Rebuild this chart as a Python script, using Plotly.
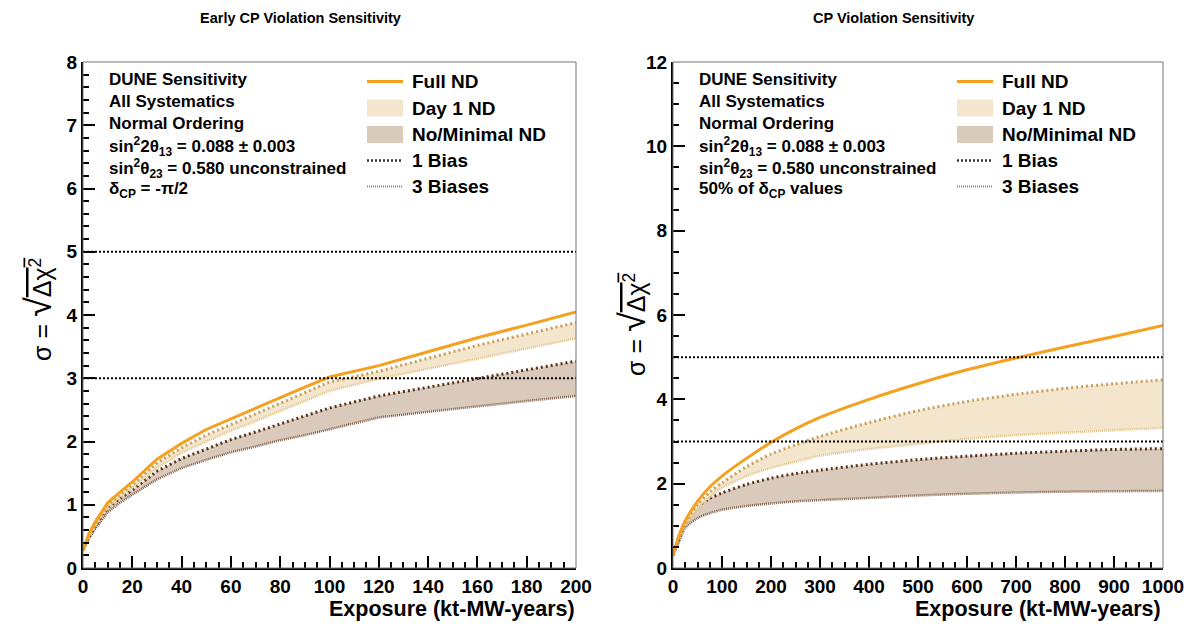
import plotly.graph_objects as go
from plotly.subplots import make_subplots

# ---------------- data ----------------
early_x = [0, 2.5, 5, 10, 15, 20, 30, 40, 50, 60, 70, 80, 90, 100, 120, 140, 160, 180, 200]
early_full = [0.28, 0.55, 0.73, 1.03, 1.20, 1.36, 1.72, 1.97, 2.19, 2.36, 2.53, 2.70, 2.86, 3.02, 3.20, 3.42, 3.64, 3.84, 4.05]
early_day1_1bias = [0.28, 0.53, 0.70, 0.99, 1.16, 1.31, 1.66, 1.90, 2.10, 2.27, 2.44, 2.61, 2.77, 2.94, 3.11, 3.32, 3.52, 3.70, 3.88]
early_day1_3bias = [0.28, 0.50, 0.67, 0.95, 1.12, 1.26, 1.58, 1.82, 2.00, 2.17, 2.32, 2.48, 2.64, 2.80, 2.99, 3.15, 3.32, 3.48, 3.63]
early_nond_1bias = [0.28, 0.50, 0.66, 0.95, 1.10, 1.23, 1.53, 1.73, 1.88, 2.03, 2.15, 2.28, 2.40, 2.53, 2.72, 2.86, 3.00, 3.14, 3.27]
early_nond_3bias = [0.28, 0.47, 0.62, 0.88, 1.03, 1.16, 1.40, 1.58, 1.71, 1.83, 1.92, 2.02, 2.10, 2.19, 2.38, 2.47, 2.56, 2.64, 2.72]

cpv_x = [0, 12.5, 25, 50, 75, 100, 150, 200, 250, 300, 400, 500, 600, 700, 800, 900, 1000]
cpv_full = [0.30, 0.78, 1.12, 1.58, 1.92, 2.18, 2.60, 2.98, 3.30, 3.57, 4.00, 4.37, 4.70, 4.98, 5.24, 5.49, 5.75]
cpv_day1_1bias = [0.30, 0.76, 1.08, 1.50, 1.80, 2.02, 2.40, 2.70, 2.92, 3.12, 3.45, 3.73, 3.95, 4.12, 4.26, 4.37, 4.46]
cpv_day1_3bias = [0.30, 0.72, 1.00, 1.40, 1.68, 1.90, 2.18, 2.37, 2.52, 2.66, 2.82, 2.94, 3.06, 3.15, 3.21, 3.27, 3.32]
cpv_nond_1bias = [0.30, 0.70, 1.05, 1.45, 1.65, 1.78, 1.98, 2.13, 2.24, 2.32, 2.46, 2.57, 2.65, 2.72, 2.77, 2.81, 2.83]
cpv_nond_3bias = [0.30, 0.63, 0.95, 1.18, 1.30, 1.38, 1.47, 1.53, 1.58, 1.61, 1.66, 1.72, 1.76, 1.79, 1.81, 1.82, 1.83]

sigma_levels = [3, 5]

panel_titles = ["Early CP Violation Sensitivity", "CP Violation Sensitivity"]
legend_labels = ["Full ND", "Day 1 ND", "No/Minimal ND", "1 Bias", "3 Biases"]
info_common = ["DUNE Sensitivity", "All Systematics", "Normal Ordering",
               "sin<sup>2</sup>2θ<sub>13</sub> = 0.088 ± 0.003",
               "sin<sup>2</sup>θ<sub>23</sub> = 0.580 unconstrained"]
info_last = ["δ<sub>CP</sub> = -π/2", "50% of δ<sub>CP</sub> values"]

# ---------------- styles ----------------
PAGE_W, PAGE_H = 1193, 624
OFF = 8  # default page body margin
W, H = PAGE_W - OFF, PAGE_H - OFF
FONT = "Liberation Sans, Arial, Helvetica, sans-serif"
ORANGE = "#f5a11f"
DAY1_FILL = "#f3e6cd"
NOND_FILL = "#d9cabb"
DAY1_L1 = "#c9a05a"
DAY1_L3 = "#e2c48c"
NOND_L1 = "#5a3218"
NOND_L3 = "#7d5d48"


def px(x):
    return (x - OFF) / W


def py(y):
    return 1 - (y - OFF) / H


fig = make_subplots(rows=1, cols=2)


def add_panel(col, x, full, d1a, d1b, n1a, n1b, shape):
    ln = dict(shape=shape, smoothing=0.8) if shape == "spline" else dict(shape=shape)
    fig.add_trace(go.Scatter(x=x, y=n1b, mode="lines", showlegend=False,
                             line=dict(color=NOND_L3, width=2.5, dash="1px,1px", **ln)), row=1, col=col)
    fig.add_trace(go.Scatter(x=x, y=n1a, mode="lines", showlegend=False, fill="tonexty",
                             fillcolor=NOND_FILL,
                             line=dict(color=NOND_L1, width=3, dash="2px,3px", **ln)), row=1, col=col)
    fig.add_trace(go.Scatter(x=x, y=d1b, mode="lines", showlegend=False,
                             line=dict(color=DAY1_L3, width=2.5, dash="1px,1px", **ln)), row=1, col=col)
    fig.add_trace(go.Scatter(x=x, y=d1a, mode="lines", showlegend=False, fill="tonexty",
                             fillcolor=DAY1_FILL,
                             line=dict(color=DAY1_L1, width=3, dash="2px,3px", **ln)), row=1, col=col)
    fig.add_trace(go.Scatter(x=x, y=full, mode="lines", showlegend=False,
                             line=dict(color=ORANGE, width=3, **ln)), row=1, col=col)


add_panel(1, early_x, early_full, early_day1_1bias, early_day1_3bias, early_nond_1bias, early_nond_3bias, "linear")
add_panel(2, cpv_x, cpv_full, cpv_day1_1bias, cpv_day1_3bias, cpv_nond_1bias, cpv_nond_3bias, "spline")

for ax in ["", "2"]:
    for lv in sigma_levels:
        fig.add_shape(type="line", xref=f"x{ax} domain", yref=f"y{ax}", x0=0, x1=1, y0=lv, y1=lv,
                      line=dict(color="black", width=2, dash="2px,2px"), layer="above")
    fig.add_shape(type="rect", xref=f"x{ax} domain", yref=f"y{ax} domain", x0=0, x1=1, y0=0, y1=1,
                  line=dict(color="#777777", width=1), layer="above")

dom_x = [[px(83), px(576)], [px(673), px(1163)]]
dom_y = [py(568), py(62)]

axis_common = dict(showgrid=False, zeroline=False, showline=True, linecolor="black", linewidth=2,
                   ticks="inside", ticklen=12, tickwidth=2, tickcolor="black",
                   tickfont=dict(family=FONT, size=19, color="black", weight="bold"))

fig.update_xaxes(domain=dom_x[0], range=[0, 200], dtick=20, tick0=0,
                 minor=dict(ticks="inside", ticklen=6, tickwidth=2, dtick=5, tickcolor="black"),
                 row=1, col=1, **axis_common)
fig.update_xaxes(domain=dom_x[1], range=[0, 1000], dtick=100, tick0=0,
                 minor=dict(ticks="inside", ticklen=6, tickwidth=2, dtick=25, tickcolor="black"),
                 row=1, col=2, **axis_common)
fig.update_yaxes(domain=dom_y, range=[0, 8], dtick=1, tick0=0,
                 minor=dict(ticks="inside", ticklen=6, tickwidth=2, dtick=0.2, tickcolor="black"),
                 row=1, col=1, **axis_common)
fig.update_yaxes(domain=dom_y, range=[0, 12], dtick=2, tick0=0,
                 minor=dict(ticks="inside", ticklen=6, tickwidth=2, dtick=0.5, tickcolor="black"),
                 row=1, col=2, **axis_common)

annotations = []
for t, cx in zip(panel_titles, [300, 893]):
    annotations.append(dict(text=t, x=px(cx), y=py(18), xref="paper", yref="paper", showarrow=False,
                            xanchor="center", yanchor="middle",
                            font=dict(family=FONT, size=14.5, color="black", weight="bold")))
for rx in [577, 1163]:
    annotations.append(dict(text="Exposure (kt-MW-years)", x=px(rx), y=py(609), xref="paper", yref="paper",
                            showarrow=False, xanchor="right", yanchor="middle",
                            font=dict(family=FONT, size=21.5, color="black", weight="bold")))
ytitle = ("σ = <span style='font-size:36px'>√</span>"
          "<span style='text-decoration:overline'>Δχ<sup>2</sup></span>")
for cx, cy in [(38, 310), (632, 325)]:
    annotations.append(dict(text=ytitle, x=px(cx), y=py(cy), xref="paper", yref="paper", showarrow=False,
                            textangle=-90, xanchor="center", yanchor="middle",
                            font=dict(family=FONT, size=25, color="black")))

info_rows = [79.5, 101, 123, 146.5, 168.5, 190]
for i, left in enumerate([107, 697]):
    lines = info_common + [info_last[i]]
    for txt, ry in zip(lines, info_rows):
        annotations.append(dict(text=txt, x=px(left), y=py(ry), xref="paper", yref="paper", showarrow=False,
                                xanchor="left", yanchor="middle",
                                font=dict(family=FONT, size=17, color="black", weight="bold")))

leg_rows = [81.5, 108, 134.5, 160.5, 186.5]
shapes = []
for sx, tx in [(367, 410), (957, 1000)]:
    sx2 = sx + 36
    for lab, ry in zip(legend_labels, leg_rows):
        annotations.append(dict(text=lab, x=px(tx), y=py(ry), xref="paper", yref="paper", showarrow=False,
                                xanchor="left", yanchor="middle",
                                font=dict(family=FONT, size=19, color="black", weight="bold")))
    shapes.append(dict(type="line", xref="paper", yref="paper", x0=px(sx), x1=px(sx2),
                       y0=py(leg_rows[0]), y1=py(leg_rows[0]), line=dict(color=ORANGE, width=3)))
    shapes.append(dict(type="rect", xref="paper", yref="paper", x0=px(sx), x1=px(sx2),
                       y0=py(leg_rows[1] - 8.5), y1=py(leg_rows[1] + 8.5),
                       fillcolor=DAY1_FILL, line=dict(width=0)))
    shapes.append(dict(type="rect", xref="paper", yref="paper", x0=px(sx), x1=px(sx2),
                       y0=py(leg_rows[2] - 8.5), y1=py(leg_rows[2] + 8.5),
                       fillcolor=NOND_FILL, line=dict(width=0)))
    shapes.append(dict(type="line", xref="paper", yref="paper", x0=px(sx), x1=px(sx2),
                       y0=py(leg_rows[3]), y1=py(leg_rows[3]),
                       line=dict(color="#333333", width=2.5, dash="2px,2px")))
    shapes.append(dict(type="line", xref="paper", yref="paper", x0=px(sx), x1=px(sx2),
                       y0=py(leg_rows[4]), y1=py(leg_rows[4]),
                       line=dict(color="#888888", width=2, dash="1px,1px")))
for s in shapes:
    fig.add_shape(**s)

fig.update_layout(width=W, height=H, margin=dict(l=0, r=0, t=0, b=0, autoexpand=False),
                  paper_bgcolor="white", plot_bgcolor="white", showlegend=False,
                  annotations=annotations)

fig.write_html("out.html")
